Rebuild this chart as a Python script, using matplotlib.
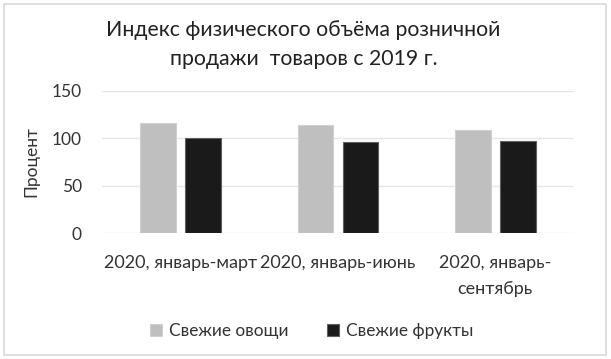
import numpy as np
import matplotlib
matplotlib.use("Agg")
import matplotlib.pyplot as plt
from matplotlib.patches import Rectangle

categories = ["2020, январь-март", "2020, январь-июнь", "2020, январь-\nсентябрь"]
vegetables = [116, 114, 109]
fruits = [100, 96, 97.5]
series_names = ["Свежие овощи", "Свежие фрукты"]
yticks = [0, 50, 100, 150]

plt.rcParams['font.family'] = ['Lato', 'DejaVu Sans']

fig = plt.figure(figsize=(6.11, 3.59), dpi=100)
fig.patches.append(Rectangle((0.006, 0.01), 0.986, 0.98, transform=fig.transFigure,
                             fill=False, edgecolor="#d9d9d9", lw=1.2))
ax = fig.add_axes([102/611, 1-233/359, 472/611, 142/359])

x = np.arange(len(categories))
w = 0.225
ax.bar(x - 0.143, vegetables, w, color="#bfbfbf", edgecolor="#d0d0d0", lw=0.8,
       label=series_names[0], zorder=3)
ax.bar(x + 0.143, fruits, w, color="#1a1a1a", edgecolor="#606060", lw=0.8,
       label=series_names[1], zorder=3)

ax.set_xlim(-0.5, 2.5)
ax.set_ylim(0, 150)
ax.set_yticks(yticks)
ax.yaxis.grid(True, color="#e6e6e6", lw=1, zorder=0)
for s in ax.spines.values():
    s.set_visible(False)
ax.tick_params(axis="y", length=0, labelsize=12.5, colors="#333333", pad=14.5)
ax.tick_params(axis="x", length=0, labelsize=13.0, colors="#333333", pad=16)
ax.set_xticks(x)
ax.set_xticklabels(categories, linespacing=1.75)
ax.set_ylabel("Процент", fontsize=12.5, color="#333333", labelpad=9)

fig.text(0.497, 0.876, "Индекс физического объёма розничной\nпродажи  товаров с 2019 г.",
         ha="center", va="center", fontsize=15.3, color="#222222", linespacing=1.55)

fig.legend(loc="center", bbox_to_anchor=(0.51, 0.078), ncol=2, frameon=False,
           fontsize=12.4, handlelength=0.7, handleheight=0.7, columnspacing=2.2,
           handletextpad=0.4, labelcolor="#333333")

fig.savefig("out.png", dpi=100)
